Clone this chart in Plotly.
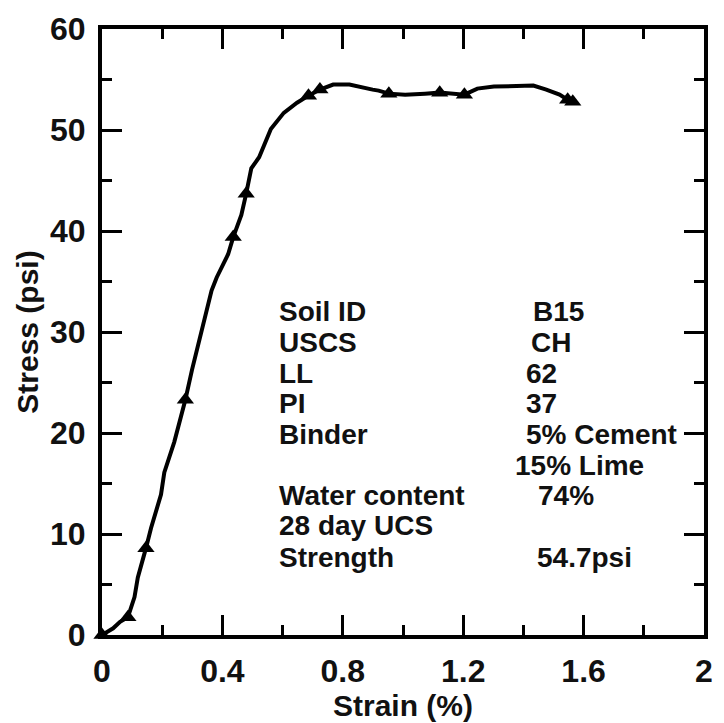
import plotly.graph_objects as go

# Curve (strain %, stress psi)
strain = [0.0, 0.037, 0.060, 0.086, 0.108, 0.119, 0.146, 0.163, 0.196, 0.207, 0.240,
          0.277, 0.299, 0.332, 0.364, 0.381, 0.419, 0.436, 0.463, 0.479, 0.496, 0.522,
          0.561, 0.604, 0.648, 0.686, 0.724, 0.768, 0.822, 0.899, 0.919, 0.953, 1.007,
          1.073, 1.122, 1.204, 1.247, 1.302, 1.433, 1.476, 1.520, 1.547, 1.564]
stress = [0.0, 0.66, 1.30, 1.76, 3.75, 5.7, 8.6, 10.6, 13.9, 16.1, 19.1,
          23.3, 26.25, 30.2, 34.1, 35.4, 37.7, 39.4, 41.6, 43.7, 46.2, 47.3,
          50.1, 51.7, 52.7, 53.4, 54.0, 54.5, 54.5, 54.0, 53.9, 53.6, 53.5,
          53.6, 53.7, 53.5, 54.1, 54.3, 54.4, 54.0, 53.5, 53.0, 52.8]

# Marker points
mark_strain = [0.0, 0.086, 0.146, 0.277, 0.436, 0.479, 0.686, 0.724, 0.953, 1.122, 1.204, 1.547, 1.564]
mark_stress = [0.0, 1.76, 8.6, 23.3, 39.4, 43.7, 53.4, 54.0, 53.6, 53.7, 53.5, 53.0, 52.8]

x_ticks = [0, 0.4, 0.8, 1.2, 1.6, 2]
x_tick_labels = ["0", "0.4", "0.8", "1.2", "1.6", "2"]
y_ticks = [0, 10, 20, 30, 40, 50, 60]

info_labels = ["Soil ID", "USCS", "LL", "PI", "Binder", "", "Water content", "28 day UCS", "Strength"]
info_values = ["B15", "CH", "62", "37", "5% Cement", "15% Lime", "74%", "", "54.7psi"]

FONT = "Liberation Sans"

fig = go.Figure()
fig.add_trace(go.Scatter(x=strain, y=stress, mode="lines",
                         line=dict(color="black", width=4), showlegend=False))
fig.add_trace(go.Scatter(x=mark_strain, y=mark_stress, mode="markers",
                         marker=dict(symbol="triangle-up", size=15, color="black"),
                         showlegend=False, cliponaxis=False))

# annotation layout positions (pixel -> data)
label_x = 0.583
value_x = [1.424, 1.417, 1.401, 1.401, 1.401, 1.365, 1.443, 1.44, 1.44]
row_y = [32.0, 29.0, 25.9, 22.9, 19.9, 16.8, 13.8, 10.8, 7.7]
afont = dict(family=FONT, size=28, color="#111", weight="bold")
for i in range(len(info_labels)):
    if info_labels[i]:
        fig.add_annotation(x=label_x, y=row_y[i], text=info_labels[i],
                           showarrow=False, xanchor="left", yanchor="middle", font=afont)
    if info_values[i]:
        fig.add_annotation(x=value_x[i], y=row_y[i], text=info_values[i],
                           showarrow=False, xanchor="left", yanchor="middle", font=afont)

axis_common = dict(
    showline=True, linecolor="black", linewidth=4, mirror="allticks",
    ticks="inside", ticklen=20, tickwidth=3, tickcolor="black",
    showgrid=False, zeroline=False,
    tickfont=dict(family=FONT, size=32, color="#111", weight="bold"),
)
tfont = dict(family=FONT, size=30, color="#111", weight="bold")

fig.update_xaxes(range=[0, 2], tickvals=x_ticks, ticktext=x_tick_labels,
                 minor=dict(dtick=0.2, ticklen=10, tickwidth=3, ticks="inside", tickcolor="black"),
                 title=dict(text="Strain (%)", font=tfont, standoff=2),
                 ticklabelstandoff=5,
                 **axis_common)
fig.update_yaxes(range=[0, 60], tickvals=y_ticks, ticktext=[str(t) for t in y_ticks],
                 minor=dict(dtick=5, ticklen=10, tickwidth=3, ticks="inside", tickcolor="black"),
                 title=dict(text="Stress (psi)", font=tfont, standoff=4),
                 ticklabelstandoff=6,
                 **axis_common)

fig.update_layout(width=724, height=723, margin=dict(l=102, r=11, t=21, b=88),
                  plot_bgcolor="white", paper_bgcolor="white")

fig.write_html("out.html")
